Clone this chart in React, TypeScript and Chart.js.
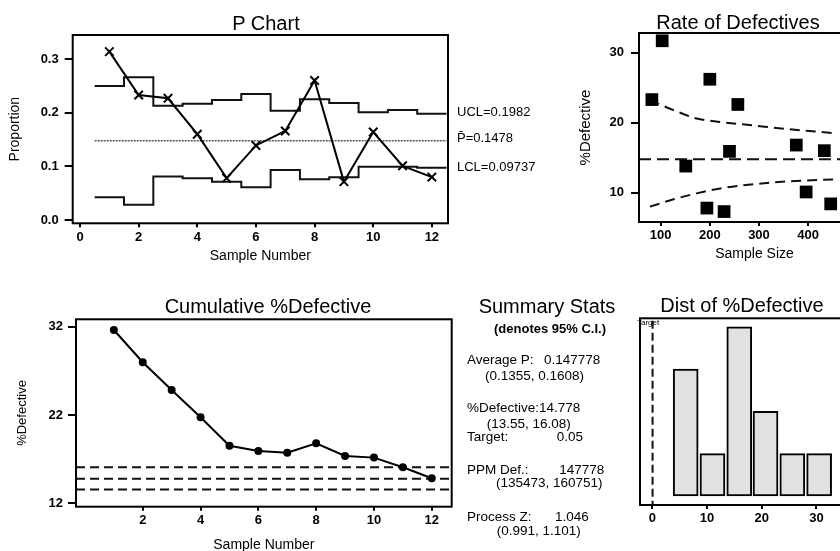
import React, { useEffect, useRef } from 'react';
import { Chart, registerables } from 'chart.js';
Chart.register(...registerables);

const FONT = '"Liberation Sans", Arial, sans-serif';

// ---------- P chart ----------
const sampleNumbers = [1, 2, 3, 4, 5, 6, 7, 8, 9, 10, 11, 12];
const proportions = [0.314, 0.233, 0.227, 0.16, 0.078, 0.139, 0.166, 0.26, 0.0715, 0.164, 0.101, 0.08];
const uclSteps = [0.25, 0.266, 0.213, 0.217, 0.224, 0.235, 0.2035, 0.225, 0.218, 0.201, 0.205, 0.1982];
const lclSteps = [0.0424, 0.0286, 0.081, 0.078, 0.0715, 0.061, 0.0934, 0.076, 0.0797, 0.0995, 0.0995, 0.09737];
const pBar = 0.1478;
const pXTicks = [0, 2, 4, 6, 8, 10, 12];
const pYTicks = [0, 0.1, 0.2, 0.3];
const pYTickLabels = ['0.0', '0.1', '0.2', '0.3'];

// ---------- Rate of defectives ----------
const sampleSizes = [82, 103, 151, 194, 200, 229, 240, 257, 376, 396, 433, 446];
const pctDefective = [23.3, 31.7, 13.8, 7.8, 26.2, 7.3, 15.9, 22.6, 16.8, 10.1, 16.0, 8.4];
const limitSizes = [78, 126, 173, 221, 289, 357, 452];
const upperLimitPct = [23.2, 21.8, 20.6, 20.1, 19.6, 19.1, 18.5];
const lowerLimitPct = [8.0, 9.05, 9.9, 10.6, 11.2, 11.6, 11.9];
const centerPct = 14.778;
const rateXTicks = [100, 200, 300, 400];
const rateYTicks = [10, 20, 30];

// ---------- Cumulative %Defective ----------
const cumPct = [31.63, 27.97, 24.83, 21.74, 18.52, 17.92, 17.73, 18.8, 17.36, 17.17, 16.08, 14.83];
const cumRefLines = [16.08, 14.778, 13.55];
const cumXTicks = [2, 4, 6, 8, 10, 12];
const cumYTicks = [12, 22, 32];

// ---------- Distribution ----------
const binMids = [6.1, 11.0, 15.9, 20.7, 25.6, 30.5];
const binCounts = [3, 1, 4, 2, 1, 1];
const targetPct = 0.05;
const distXTicks = [0, 10, 20, 30];

// ---------- Summary ----------
const summaryRows: { label: string; value: string; ci?: string }[] = [
  { label: 'Average P:', value: '0.147778', ci: '(0.1355, 0.1608)' },
  { label: '%Defective:', value: '14.778', ci: '(13.55, 16.08)' },
  { label: 'Target:', value: '0.05' },
  { label: 'PPM Def.:', value: '147778', ci: '(135473, 160751)' },
  { label: 'Process Z:', value: '1.046', ci: '(0.991, 1.101)' },
];

const frame = {
  id: 'frame',
  afterDraw(chart: any) {
    const { ctx, chartArea: a } = chart;
    ctx.save();
    ctx.lineWidth = 2;
    ctx.strokeStyle = '#000';
    ctx.strokeRect(a.left, a.top, a.right - a.left, a.bottom - a.top);
    ctx.restore();
  },
};

function xAxis(o: any) {
  return {
    type: 'linear',
    position: 'bottom',
    offset: false,
    min: o.min,
    max: o.max,
    afterBuildTicks: (s: any) => { s.ticks = o.ticks.map((v: number) => ({ value: v })); },
    afterFit: (s: any) => { s.height = o.height; },
    grid: { offset: false, drawOnChartArea: false, drawTicks: true, tickLength: o.tickLength ?? 4, color: '#000', lineWidth: 2 },
    border: { display: false },
    ticks: {
      color: '#000', font: { family: FONT, size: 13, weight: 'bold' }, padding: o.tickPad ?? 2,
      maxRotation: 0, autoSkip: false,
      callback: (v: any, i: number) => (o.labels ? o.labels[i] : String(v)),
    },
    title: {
      display: !!o.title, text: o.title, color: '#000',
      font: { family: FONT, size: o.titleSize ?? 14 }, padding: { top: 0, bottom: o.titlePad ?? 0 },
    },
  };
}

function yAxis(o: any) {
  return {
    type: 'linear',
    position: 'left',
    min: o.min,
    max: o.max,
    display: o.display ?? true,
    afterBuildTicks: (s: any) => { s.ticks = o.ticks.map((v: number) => ({ value: v })); },
    afterFit: (s: any) => { s.width = o.width; },
    grid: { drawOnChartArea: false, drawTicks: true, tickLength: o.tickLength ?? 8, color: '#000', lineWidth: 2 },
    border: { display: false },
    ticks: {
      color: '#000', font: { family: FONT, size: 13, weight: 'bold' }, padding: o.tickPad ?? 5,
      autoSkip: false,
      callback: (v: any, i: number) => (o.labels ? o.labels[i] : String(v)),
    },
    title: {
      display: !!o.title, text: o.title, color: '#000',
      font: { family: FONT, size: o.titleSize ?? 14 }, padding: { top: 0, bottom: 0 },
    },
  };
}

function ChartBox({ left, top, width, height, make }: any) {
  const ref = useRef<HTMLCanvasElement | null>(null);
  useEffect(() => {
    const c = new Chart(ref.current as HTMLCanvasElement, make());
    return () => c.destroy();
  }, []);
  return (
    <canvas ref={ref} width={width} height={height}
      style={{ position: 'absolute', left, top, width, height }} />
  );
}

const baseOpts = (padding: any) => ({
  responsive: false,
  animation: false,
  devicePixelRatio: 1,
  layout: { padding },
  plugins: { legend: { display: false }, tooltip: { enabled: false }, title: { display: false } },
});

function makePChart() {
  const stepX = [...sampleNumbers.map((n) => n - 0.5), sampleNumbers[sampleNumbers.length - 1] + 0.5];
  const ucl = stepX.map((x, i) => ({ x, y: uclSteps[Math.min(i, uclSteps.length - 1)] }));
  const lcl = stepX.map((x, i) => ({ x, y: lclSteps[Math.min(i, lclSteps.length - 1)] }));
  return {
    type: 'line',
    data: {
      datasets: [
        {
          data: sampleNumbers.map((n, i) => ({ x: n, y: proportions[i] })),
          borderColor: '#000', borderWidth: 2, pointStyle: 'crossRot', pointRadius: 6,
          pointBorderColor: '#000', pointBorderWidth: 2, pointBackgroundColor: '#000',
        },
        { data: ucl, stepped: 'before', borderColor: '#111', borderWidth: 2, pointRadius: 0 },
        { data: lcl, stepped: 'before', borderColor: '#111', borderWidth: 2, pointRadius: 0 },
        {
          data: [{ x: stepX[0], y: pBar }, { x: stepX[stepX.length - 1], y: pBar }],
          borderColor: '#555', borderWidth: 1.5, borderDash: [2, 1], pointRadius: 0,
        },
      ],
    },
    options: {
      ...baseOpts({ left: 7, top: 35, right: 92, bottom: 0 }),
      scales: {
        x: xAxis({ min: -0.25, max: 12.55, ticks: pXTicks, height: 56.7, title: 'Sample Number', titlePad: 15.6, tickLength: 4, tickPad: 2 }),
        y: yAxis({ min: -0.0062, max: 0.345, ticks: pYTicks, labels: pYTickLabels, width: 65.7, title: 'Proportion', tickLength: 8, tickPad: 6 }),
      },
    },
    plugins: [frame],
  };
}

function makeRateChart() {
  return {
    type: 'line',
    data: {
      datasets: [
        {
          data: sampleSizes.map((n, i) => ({ x: n, y: pctDefective[i] })),
          showLine: false, pointStyle: 'rect', pointRadius: 9,
          pointBackgroundColor: '#000', pointBorderColor: '#000', pointBorderWidth: 0,
        },
        {
          data: limitSizes.map((n, i) => ({ x: n, y: upperLimitPct[i] })),
          borderColor: '#111', borderWidth: 2, borderDash: [10, 6], pointRadius: 0, cubicInterpolationMode: 'monotone',
        },
        {
          data: limitSizes.map((n, i) => ({ x: n, y: lowerLimitPct[i] })),
          borderColor: '#111', borderWidth: 2, borderDash: [10, 6], pointRadius: 0, cubicInterpolationMode: 'monotone',
        },
        {
          data: [{ x: 55.8, y: centerPct }, { x: 526, y: centerPct }],
          borderColor: '#111', borderWidth: 2, borderDash: [12, 6], pointRadius: 0,
        },
      ],
    },
    options: {
      ...baseOpts({ left: 16.7, top: 33, right: 30, bottom: 0 }),
      scales: {
        x: xAxis({ min: 55.8, max: 526, ticks: rateXTicks, height: 58, title: 'Sample Size', titlePad: 17.6, tickLength: 4, tickPad: 2 }),
        y: yAxis({ min: 5.81, max: 32.81, ticks: rateYTicks, width: 62.3, title: '%Defective', titleSize: 15, tickLength: 8, tickPad: 7 }),
      },
    },
    plugins: [frame],
  };
}

function makeCumChart() {
  const lines = cumRefLines.map((v) => ({
    data: [{ x: -0.31, y: v }, { x: 12.69, y: v }],
    borderColor: '#111', borderWidth: 2, borderDash: [9, 5], pointRadius: 0,
  }));
  return {
    type: 'line',
    data: {
      datasets: [
        {
          data: sampleNumbers.map((n, i) => ({ x: n, y: cumPct[i] })),
          borderColor: '#000', borderWidth: 2, pointStyle: 'circle', pointRadius: 3,
          pointBackgroundColor: '#000', pointBorderColor: '#000',
        },
        ...lines,
      ],
    },
    options: {
      ...baseOpts({ left: 14.2, top: 39.3, right: 84.3, bottom: 0 }),
      scales: {
        x: xAxis({ min: -0.31, max: 12.69, ticks: cumXTicks, height: 53.3, title: 'Sample Number', titlePad: 6.6, tickLength: 4, tickPad: 2 }),
        y: yAxis({ min: 11.61, max: 32.84, ticks: cumYTicks, width: 61.8, title: '%Defective', titleSize: 13, tickLength: 8, tickPad: 5 }),
      },
    },
    plugins: [frame],
  };
}

function makeDistChart() {
  return {
    type: 'bar',
    data: {
      datasets: [
        {
          type: 'bar',
          data: binMids.map((m, i) => ({ x: m, y: binCounts[i] })),
          backgroundColor: '#e1e1e1', borderColor: '#000', borderWidth: 2,
          borderSkipped: false, barThickness: 25,
        },
        {
          type: 'line',
          data: [{ x: targetPct, y: -0.3 }, { x: targetPct, y: 4.4 }],
          borderColor: '#111', borderWidth: 2, borderDash: [8, 4], pointRadius: 0,
        },
      ],
    },
    options: {
      ...baseOpts({ left: 80, top: 38.3, right: 30, bottom: 0 }),
      scales: {
        x: xAxis({ min: -2.25, max: 39.8, ticks: distXTicks, height: 55, tickLength: 4, tickPad: 2 }),
        y: yAxis({ min: -0.213, max: 4.2, ticks: [], width: 0, display: false }),
      },
    },
    plugins: [frame],
  };
}

const txt = (s: any) => ({ position: 'absolute' as const, whiteSpace: 'pre' as const, fontFamily: FONT, color: '#000', ...s });

export default function App() {
  const rowY = [360, 408.3, 436.7, 470, 516.7];
  const ciY = [375.7, 424, null, 483.3, 530.7];
  const valX = [544, 0, 556.7, 559.3, 555];
  const ciX = [485, 486.7, 0, 496, 496.7];
  return (
    <div style={{ position: 'fixed', left: 0, top: 0, width: 840, height: 551, overflow: 'hidden', background: '#fff' }}>
      <ChartBox left={0} top={0} width={540} height={280} make={makePChart} />
      <ChartBox left={560} top={0} width={340} height={280} make={makeRateChart} />
      <ChartBox left={0} top={280} width={536} height={280} make={makeCumChart} />
      <ChartBox left={560} top={280} width={340} height={280} make={makeDistChart} />

      <div style={txt({ left: 166, width: 200, textAlign: 'center', top: 11, fontSize: 20, lineHeight: '24px' })}>P Chart</div>
      <div style={txt({ left: 638, width: 200, textAlign: 'center', top: 10, fontSize: 20, lineHeight: '24px' })}>Rate of Defectives</div>
      <div style={txt({ left: 138, width: 260, textAlign: 'center', top: 294, fontSize: 20, lineHeight: '24px' })}>Cumulative %Defective</div>
      <div style={txt({ left: 447, width: 200, textAlign: 'center', top: 294, fontSize: 20, lineHeight: '24px' })}>Summary Stats</div>
      <div style={txt({ left: 642, width: 200, textAlign: 'center', top: 293, fontSize: 20, lineHeight: '24px' })}>Dist of %Defective</div>

      <div style={txt({ left: 457, top: 104, fontSize: 13, lineHeight: '16px' })}>UCL=0.1982</div>
      <div style={txt({ left: 457, top: 130, fontSize: 13, lineHeight: '16px' })}>P̄=0.1478</div>
      <div style={txt({ left: 457, top: 159, fontSize: 13, lineHeight: '16px' })}>LCL=0.09737</div>

      <div style={txt({ left: 494, top: 321, fontSize: 13, fontWeight: 'bold', lineHeight: '16px' })}>(denotes 95% C.I.)</div>
      {summaryRows.map((r, i) => (
        <React.Fragment key={i}>
          {valX[i] ? (
            <>
              <div style={txt({ left: 467, top: rowY[i] - 8, fontSize: 13.5, lineHeight: '16px' })}>{r.label}</div>
              <div style={txt({ left: valX[i], top: rowY[i] - 8, fontSize: 13.5, lineHeight: '16px' })}>{r.value}</div>
            </>
          ) : (
            <div style={txt({ left: 467, top: rowY[i] - 8, fontSize: 13.5, lineHeight: '16px' })}>{r.label + r.value}</div>
          )}
          {r.ci ? (
            <div style={txt({ left: ciX[i], top: (ciY[i] as number) - 8, fontSize: 13.5, lineHeight: '16px' })}>{r.ci}</div>
          ) : null}
        </React.Fragment>
      ))}

      <div style={txt({ left: 637, top: 318, fontSize: 8, lineHeight: '10px' })}>Target</div>
    </div>
  );
}
